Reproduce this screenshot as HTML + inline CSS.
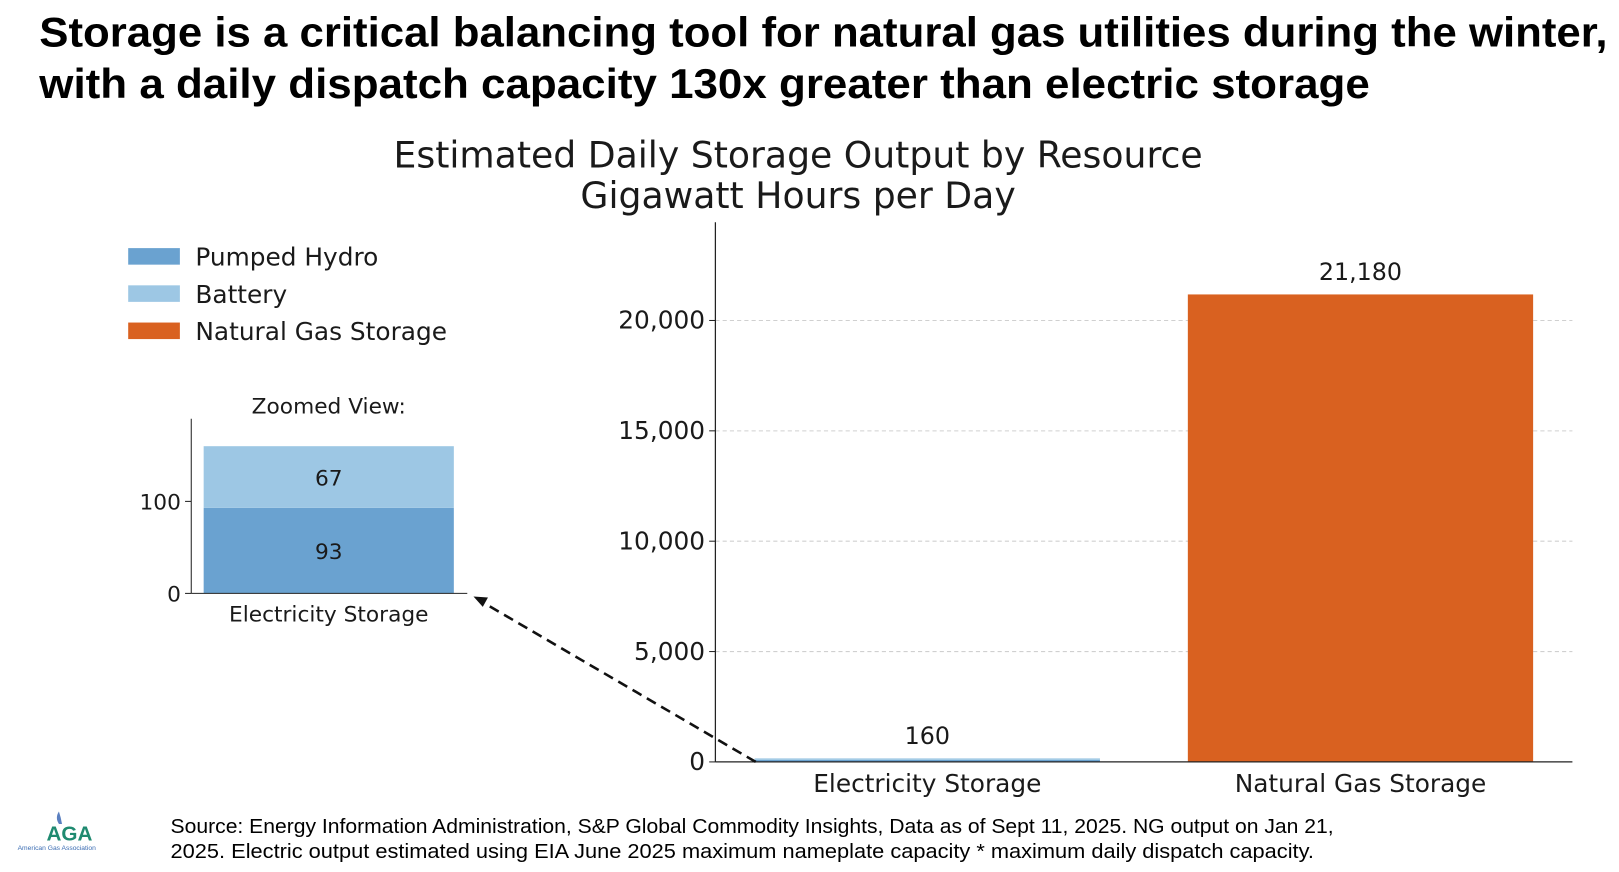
<!DOCTYPE html>
<html><head><meta charset="utf-8">
<style>
body{margin:0;background:#fff;width:1619px;height:867px;overflow:hidden}
svg text{font-family:"DejaVu Sans",sans-serif;fill:#1a1a1a}
</style></head>
<body>
<svg width="1619" height="867" xmlns="http://www.w3.org/2000/svg">
<g transform="scale(1.0338)">
<text x="38" y="45" textLength="1517" lengthAdjust="spacingAndGlyphs" style="font-family:'Liberation Sans',sans-serif;font-weight:bold;font-size:40px;fill:#000">Storage is a critical balancing tool for natural gas utilities during the winter,</text>
<text x="38" y="95" textLength="1287" lengthAdjust="spacingAndGlyphs" style="font-family:'Liberation Sans',sans-serif;font-weight:bold;font-size:40px;fill:#000">with a daily dispatch capacity 130x greater than electric storage</text>
<text x="772" y="162" text-anchor="middle" font-size="35">Estimated Daily Storage Output by Resource</text>
<text x="772" y="201" text-anchor="middle" font-size="35">Gigawatt Hours per Day</text>
<g id="main"></g>
<g id="zoom"></g>
<g>
<rect x="124" y="240" width="50" height="16" fill="#6aa2d0"/>
<text x="189" y="257" font-size="24">Pumped Hydro</text>
<rect x="124" y="276" width="50" height="16" fill="#9dc7e4"/>
<text x="189" y="293" font-size="24">Battery</text>
<rect x="124" y="312" width="50" height="16" fill="#d96120"/>
<text x="189" y="329" font-size="24">Natural Gas Storage</text>
</g>
<g>
<line x1="731" y1="737" x2="466" y2="582" stroke="#111" stroke-width="2.5" stroke-dasharray="10,6"/>
<path d="M458,577 L472,578 L467,587 Z" fill="#111"/>
</g>
<g>
<path d="M57,797 q-4,-6 0,-12 q2,6 3,12 z" fill="#5a7fc0"/>
<text x="45" y="813" font-size="20" style="font-family:'Liberation Sans',sans-serif;font-weight:bold;fill:#1f8a70">AGA</text>
<text x="17" y="822" font-size="6.5" style="font-family:'Liberation Sans',sans-serif;fill:#3b6db3">American Gas Association</text>
</g>
<text x="165" y="806" font-size="20" textLength="1125" lengthAdjust="spacingAndGlyphs" style="font-family:'Liberation Sans',sans-serif;fill:#000">Source: Energy Information Administration, S&amp;P Global Commodity Insights, Data as of Sept 11, 2025. NG output on Jan 21,</text>
<text x="165" y="830" font-size="20" textLength="1106" lengthAdjust="spacingAndGlyphs" style="font-family:'Liberation Sans',sans-serif;fill:#000">2025. Electric output estimated using EIA June 2025 maximum nameplate capacity * maximum daily dispatch capacity.</text>
</g>
</svg>
<script>
const categories=["Electricity Storage","Natural Gas Storage"];
const pumpedHydro=[93,0];
const battery=[67,0];
const naturalGas=[0,21180];
const totalLabels=["160","21,180"];
const yTicks=[0,5000,10000,15000,20000];
const yTickLabels=["0","5,000","10,000","15,000","20,000"];
const zoomTicks=[0,100];
const NS="http://www.w3.org/2000/svg";
function mk(tag,attrs,parent,txt){const e=document.createElementNS(NS,tag);for(const k in attrs)e.setAttribute(k,attrs[k]);if(txt!==undefined)e.textContent=txt;parent.appendChild(e);return e;}
const main=document.getElementById('main');
const y=v=>737-v*(427/20000);
const xc=i=>897+i*419;
const bw=334;
yTicks.forEach((t,i)=>{
 if(t>0){const g=mk('line',{x1:692,x2:1521,y1:y(t),y2:y(t),stroke:'#d0d0d0','stroke-dasharray':'4,3'},main);
 
 }
 const tk=mk('line',{x1:686,x2:692,y1:y(t),y2:y(t),stroke:'#222'},main);
 
 
 const l=mk('text',{x:682,y:y(t)+8,'text-anchor':'end','font-size':24},main,yTickLabels[i]);
 
 
});
categories.forEach((c,i)=>{
 const x0=xc(i)-bw/2;
 let base=0;
 [[pumpedHydro,'#6aa2d0'],[battery,'#9dc7e4'],[naturalGas,'#d96120']].forEach(([arr,col])=>{
  const v=arr[i]; if(v<=0)return;
  const r=mk('rect',{x:x0,y:y(base+v),width:bw,height:y(base)-y(base+v),fill:col},main);
  
  
  base+=v;
 });
 const vl=mk('text',{x:xc(i),y:y(base)-14,'text-anchor':'middle','font-size':23},main,totalLabels[i]);
 
 
 const xl=mk('text',{x:xc(i),y:766,'text-anchor':'middle','font-size':24},main,c);
 
 
});
const ya=mk('line',{x1:692,x2:692,y1:215,y2:737,stroke:'#222','stroke-width':1.2},main);


const xa=mk('line',{x1:692,x2:1521,y1:737,y2:737,stroke:'#222','stroke-width':1.2},main);


const zg=document.getElementById('zoom');
const zy=v=>574-v*0.89;
const zt=mk('text',{x:318,y:400,'text-anchor':'middle','font-size':21},zg,'Zoomed View:');


let zb=0;
[[pumpedHydro,'#6aa2d0'],[battery,'#9dc7e4']].forEach(([arr,col])=>{
 const v=arr[0];
 const r=mk('rect',{x:197,y:zy(zb+v),width:242,height:zy(zb)-zy(zb+v),fill:col},zg);
 
 
 const t=mk('text',{x:318,y:(zy(zb)+zy(zb+v))/2+8,'text-anchor':'middle','font-size':21},zg,String(v));
 
 
 zb+=v;
});
zoomTicks.forEach(t=>{
 const tk=mk('line',{x1:179,x2:185,y1:zy(t),y2:zy(t),stroke:'#222'},zg);
 
 
 const l=mk('text',{x:175,y:zy(t)+8,'text-anchor':'end','font-size':21},zg,String(t));
 
 
});
const zya=mk('line',{x1:185,x2:185,y1:405,y2:574,stroke:'#222'},zg);


const zxa=mk('line',{x1:185,x2:452,y1:574,y2:574,stroke:'#222'},zg);


const zxl=mk('text',{x:318,y:601,'text-anchor':'middle','font-size':21},zg,categories[0]);


</script>
</body></html>
